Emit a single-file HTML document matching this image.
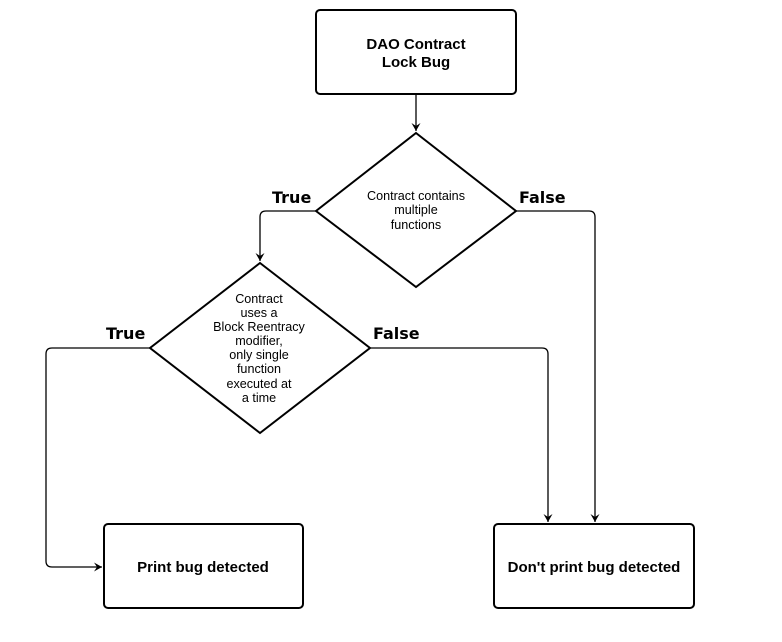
<!DOCTYPE html>
<html><head><style>body{margin:0;background:#fff}svg{display:block}</style></head><body>
<svg width="782" height="642" viewBox="0 0 782 642" xmlns="http://www.w3.org/2000/svg">
<defs><marker id="a" markerWidth="12" markerHeight="12" refX="9" refY="6" orient="auto" markerUnits="userSpaceOnUse"><path d="M1,1.5 L9,6 L1,10.5 L4,6 Z" fill="#000"/></marker></defs>
<g fill="#fff" stroke="#000" stroke-width="2">
<rect x="316" y="10" width="200" height="84" rx="4"/>
<rect x="104" y="524" width="199" height="84" rx="4"/>
<rect x="494" y="524" width="200" height="84" rx="4"/>
<polygon points="416,133 516,211 416,287 316,211"/>
<polygon points="260,263 370,348 260,433 150,348"/>
</g>
<g fill="none" stroke="#000" stroke-width="1.3">
<path d="M416,94 V131" marker-end="url(#a)"/>
<path d="M316,211 H266 Q260,211 260,217 V261" marker-end="url(#a)"/>
<path d="M516,211 H589 Q595,211 595,217 V522" marker-end="url(#a)"/>
<path d="M150,348 H52 Q46,348 46,354 V561 Q46,567 52,567 H102" marker-end="url(#a)"/>
<path d="M370,348 H542 Q548,348 548,354 V522" marker-end="url(#a)"/>
</g>
<g font-family="Liberation Sans, Arial, sans-serif" text-anchor="middle" fill="#000">
<g font-weight="bold" font-size="15"><text x="416" y="49">DAO Contract</text><text x="416" y="67">Lock Bug</text>
<text x="203" y="572">Print bug detected</text><text x="594" y="572">Don't print bug detected</text></g>
<g font-size="12.6"><text x="416" y="200">Contract contains</text><text x="416" y="214">multiple</text><text x="416" y="229">functions</text>
<text x="259" y="303">Contract</text><text x="259" y="317">uses a</text><text x="259" y="331">Block Reentracy</text><text x="259" y="345">modifier,</text><text x="259" y="359">only single</text><text x="259" y="373">function</text><text x="259" y="388">executed at</text><text x="259" y="402">a time</text></g>
</g>
<g font-family="DejaVu Sans, sans-serif" font-weight="bold" font-size="16" fill="#000">
<text x="272" y="203">True</text><text x="519" y="203">False</text>
<text x="106" y="339">True</text><text x="373" y="339">False</text>
</g>
</svg>
</body></html>
